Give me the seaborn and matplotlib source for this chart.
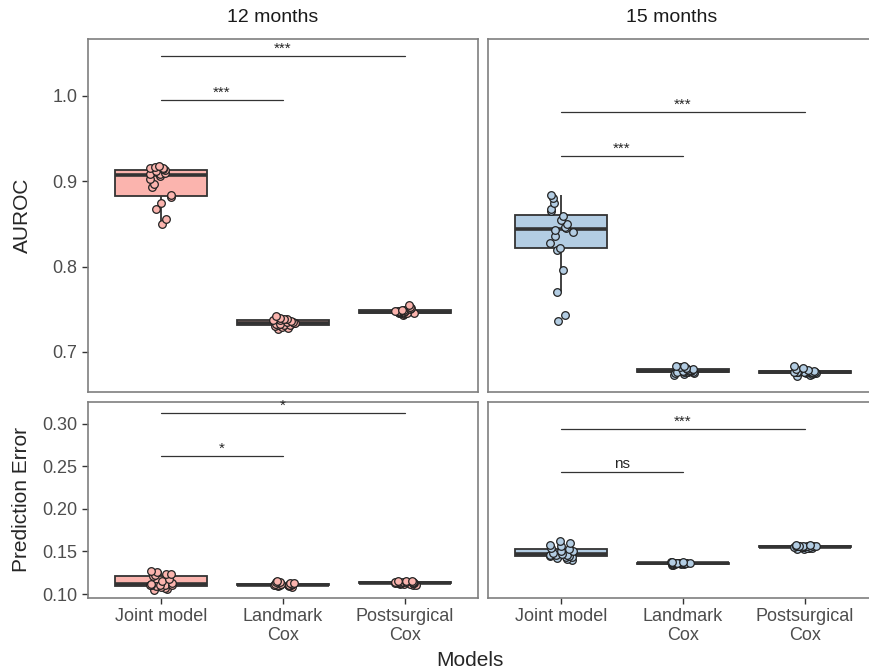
import numpy as np
import pandas as pd
import matplotlib.pyplot as plt
import seaborn as sns

sns.set_style("white")
plt.rcParams['font.family'] = ['Liberation Sans', 'DejaVu Sans']

models = ["Joint model", "Landmark\nCox", "Postsurgical\nCox"]
times = ["12 months", "15 months"]
metrics = ["AUROC", "Prediction Error"]

# AUROC, 12 months
auroc_12_joint = [0.850, 0.856, 0.867, 0.874, 0.881, 0.884, 0.893, 0.897, 0.903, 0.906,
                  0.908, 0.909, 0.910, 0.912, 0.913, 0.914, 0.915, 0.916, 0.917, 0.918]
auroc_12_landmark = [0.727, 0.728, 0.729, 0.730, 0.731, 0.731, 0.732, 0.733, 0.733, 0.734,
                     0.734, 0.735, 0.735, 0.736, 0.737, 0.737, 0.738, 0.739, 0.740, 0.742]
auroc_12_post = [0.743, 0.744, 0.745, 0.745, 0.746, 0.746, 0.746, 0.747, 0.747, 0.747,
                 0.747, 0.748, 0.748, 0.748, 0.749, 0.749, 0.750, 0.751, 0.753, 0.755]
# AUROC, 15 months
auroc_15_joint = [0.736, 0.743, 0.770, 0.796, 0.820, 0.822, 0.828, 0.836, 0.840, 0.843,
                  0.845, 0.846, 0.850, 0.855, 0.859, 0.865, 0.868, 0.874, 0.880, 0.884]
auroc_15_landmark = [0.673, 0.674, 0.675, 0.675, 0.676, 0.676, 0.677, 0.677, 0.677, 0.678,
                     0.678, 0.678, 0.679, 0.679, 0.680, 0.680, 0.681, 0.682, 0.683, 0.684]
auroc_15_post = [0.672, 0.673, 0.674, 0.675, 0.675, 0.675, 0.676, 0.676, 0.676, 0.676,
                 0.676, 0.677, 0.677, 0.677, 0.677, 0.678, 0.679, 0.680, 0.681, 0.683]
# Prediction error, 12 months
pe_12_joint = [0.105, 0.106, 0.107, 0.108, 0.109, 0.110, 0.110, 0.111, 0.111, 0.111,
               0.112, 0.113, 0.115, 0.118, 0.121, 0.122, 0.123, 0.124, 0.126, 0.127]
pe_12_landmark = [0.108, 0.109, 0.109, 0.110, 0.110, 0.110, 0.111, 0.111, 0.111, 0.111,
                  0.111, 0.112, 0.112, 0.112, 0.112, 0.113, 0.113, 0.114, 0.114, 0.115]
pe_12_post = [0.111, 0.111, 0.112, 0.112, 0.112, 0.113, 0.113, 0.113, 0.113, 0.113,
              0.113, 0.113, 0.114, 0.114, 0.114, 0.114, 0.114, 0.115, 0.115, 0.115]
# Prediction error, 15 months
pe_15_joint = [0.140, 0.141, 0.142, 0.143, 0.144, 0.145, 0.145, 0.146, 0.146, 0.146,
               0.147, 0.148, 0.150, 0.151, 0.153, 0.154, 0.156, 0.158, 0.160, 0.162]
pe_15_landmark = [0.134, 0.134, 0.135, 0.135, 0.135, 0.135, 0.136, 0.136, 0.136, 0.136,
                  0.136, 0.136, 0.136, 0.137, 0.137, 0.137, 0.137, 0.138, 0.138, 0.138]
pe_15_post = [0.153, 0.153, 0.154, 0.154, 0.154, 0.155, 0.155, 0.155, 0.155, 0.155,
              0.156, 0.156, 0.156, 0.156, 0.156, 0.157, 0.157, 0.157, 0.158, 0.158]

# significance brackets: (metric, time, from, to, y, label)
sig_metric = ["AUROC", "AUROC", "AUROC", "AUROC",
              "Prediction Error", "Prediction Error", "Prediction Error", "Prediction Error"]
sig_time = ["12 months", "12 months", "15 months", "15 months",
            "12 months", "12 months", "15 months", "15 months"]
sig_from = [0, 0, 0, 0, 0, 0, 0, 0]
sig_to = [2, 1, 2, 1, 2, 1, 2, 1]
sig_y = [1.047, 0.995, 0.981, 0.930, 0.3128, 0.262, 0.2944, 0.2435]
sig_label = ["***", "***", "***", "***", "*", "*", "***", "ns"]

values = {
    ("AUROC", "12 months"): [auroc_12_joint, auroc_12_landmark, auroc_12_post],
    ("AUROC", "15 months"): [auroc_15_joint, auroc_15_landmark, auroc_15_post],
    ("Prediction Error", "12 months"): [pe_12_joint, pe_12_landmark, pe_12_post],
    ("Prediction Error", "15 months"): [pe_15_joint, pe_15_landmark, pe_15_post],
}
rows = []
for (metric, time), groups in values.items():
    for model, vals in zip(models, groups):
        for v in vals:
            rows.append({"metric": metric, "time": time, "model": model, "value": v})
df = pd.DataFrame(rows)

fills = {"12 months": "#FBB4AE", "15 months": "#B3CDE3"}
ylims = {"AUROC": (0.653, 1.0667), "Prediction Error": (0.0953, 0.3257)}
yticks = {"AUROC": [0.7, 0.8, 0.9, 1.0], "Prediction Error": [0.10, 0.15, 0.20, 0.25, 0.30]}
yfmt = {"AUROC": "{:.1f}", "Prediction Error": "{:.2f}"}

W, H = 870, 672
fig = plt.figure(figsize=(8.7, 6.72), dpi=100)
panel_x = {"12 months": (88, 478), "15 months": (488, 878)}
panel_y = {"AUROC": (39, 392), "Prediction Error": (402, 598)}

np.random.seed(3)
for metric in metrics:
    for time in times:
        x0, x1 = panel_x[time]
        y0, y1 = panel_y[metric]
        ax = fig.add_axes([x0 / W, 1 - y1 / H, (x1 - x0) / W, (y1 - y0) / H])
        sub = df[(df.metric == metric) & (df.time == time)]
        sns.boxplot(data=sub, x="model", y="value", order=models, color=fills[time],
                    saturation=1, width=0.75, linecolor="#333333", linewidth=1.3,
                    showfliers=False, showcaps=False, medianprops=dict(linewidth=2.6), ax=ax)
        sns.stripplot(data=sub, x="model", y="value", order=models, color=fills[time],
                      edgecolor="#222222", linewidth=0.9, size=5.5, jitter=0.1, ax=ax)
        for m, t, a, b, yy, lab in zip(sig_metric, sig_time, sig_from, sig_to, sig_y, sig_label):
            if m == metric and t == time:
                ax.plot([a, b], [yy, yy], color="#333333", lw=0.9)
                if lab == "ns":
                    ax.text((a + b) / 2, yy + 0.001, lab, ha="center", va="bottom", fontsize=11)
                else:
                    ax.text((a + b) / 2, yy, lab, ha="center", va="bottom", fontsize=11)
        ax.set_xlim(-0.6, 2.6)
        ax.set_ylim(*ylims[metric])
        ax.set_xlabel("")
        ax.set_ylabel("")
        for s in ax.spines.values():
            s.set_color("#7F7F7F")
            s.set_linewidth(1.2)
        ax.tick_params(axis="both", which="both", length=4, width=1, color="#333333",
                       labelcolor="#4D4D4D", labelsize=13, direction="out",
                       bottom=True, left=True)
        if time == "12 months":
            ax.set_yticks(yticks[metric])
            ax.set_yticklabels([yfmt[metric].format(v) for v in yticks[metric]])
        else:
            ax.tick_params(axis="y", left=False, labelleft=False)
        if metric == "AUROC":
            ax.tick_params(axis="x", bottom=False, labelbottom=False)
        else:
            ax.set_xticks([0, 1, 2])
            ax.set_xticklabels(models, linespacing=1.1)

# strip titles
fig.text(273 / W, 1 - 18 / H, "12 months", ha="center", va="center", fontsize=14, color="#1A1A1A")
fig.text(672 / W, 1 - 18 / H, "15 months", ha="center", va="center", fontsize=14, color="#1A1A1A")
# row labels and axis title
fig.text(22 / W, 1 - 215 / H, "AUROC", ha="center", va="center", rotation=90, fontsize=15)
fig.text(22 / W, 1 - 500 / H, "Prediction Error", ha="center", va="center", rotation=90, fontsize=15)
fig.text(470 / W, 1 - 660 / H, "Models", ha="center", va="center", fontsize=15)

fig.savefig("out.png", dpi=100)
